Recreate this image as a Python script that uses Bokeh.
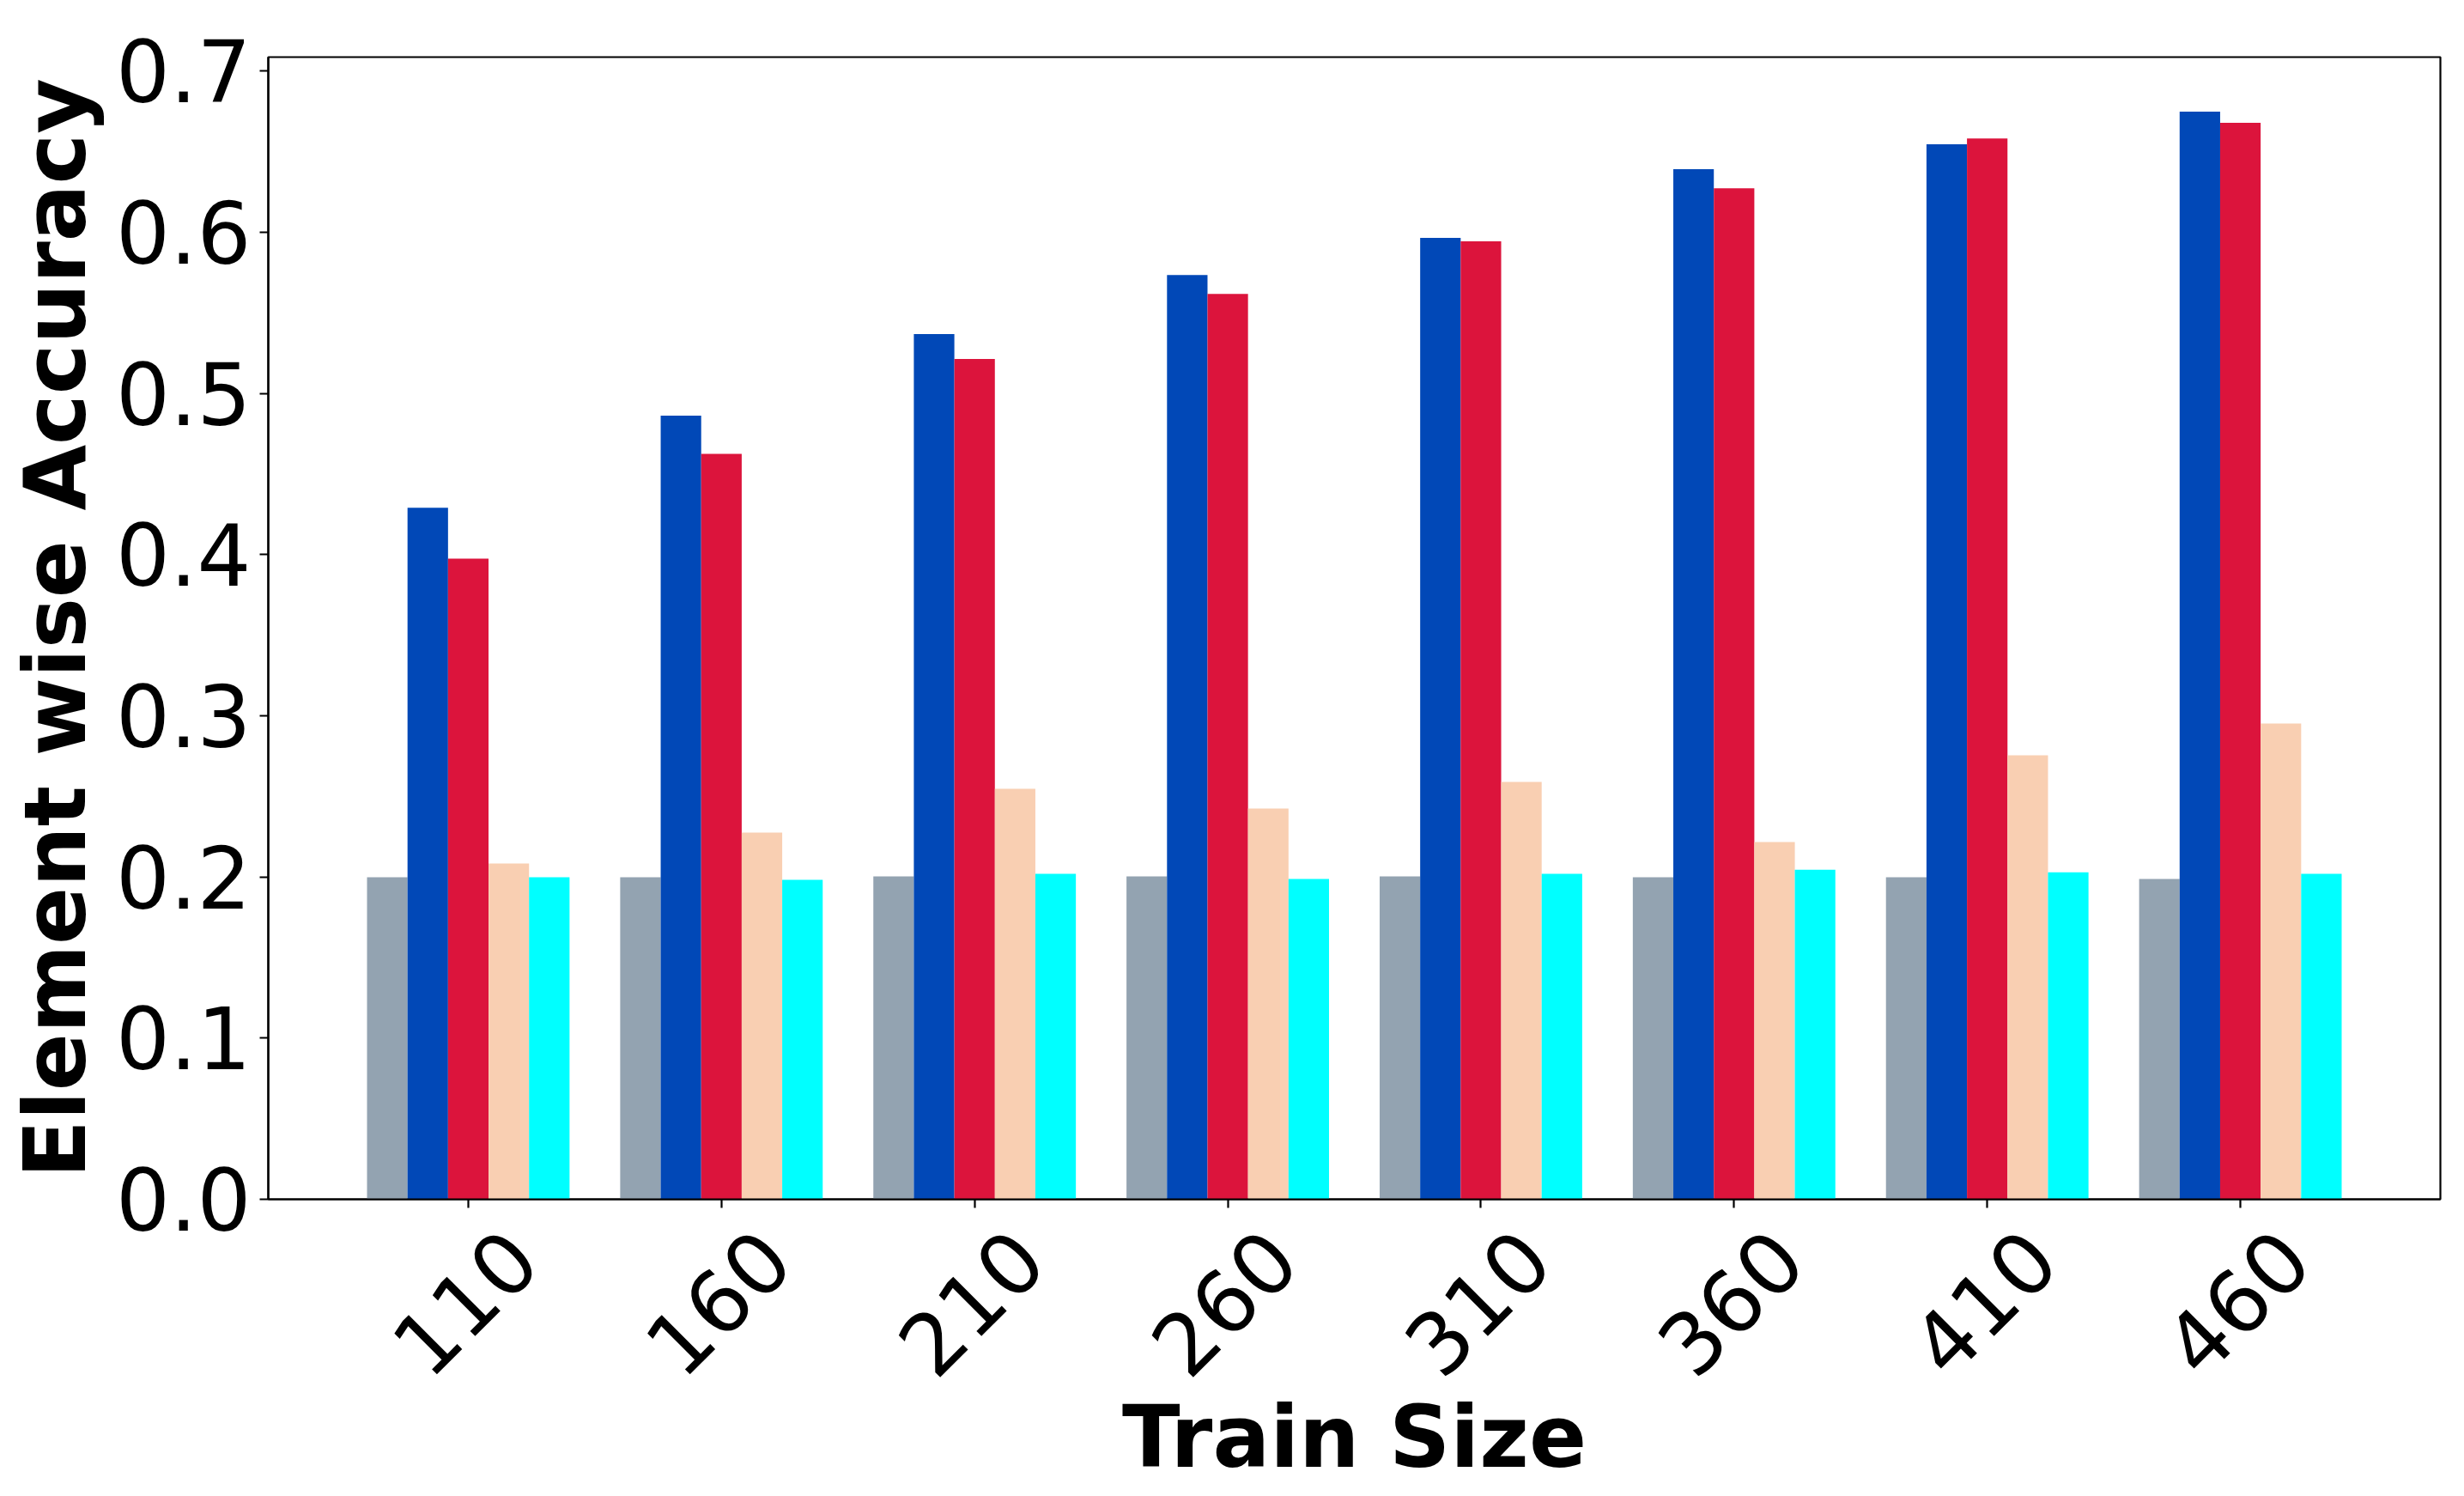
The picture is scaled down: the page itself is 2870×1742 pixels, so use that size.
import numpy as np
from math import pi
from bokeh.plotting import figure
from bokeh.models import Range1d, FixedTicker, LinearAxis
from bokeh.embed import file_html
from bokeh.resources import INLINE

# ---- data ----
train_sizes = ["110", "160", "210", "260", "310", "360", "410", "460"]
acc_gray = [0.1998, 0.1998, 0.2003, 0.2003, 0.2003, 0.1998, 0.1998, 0.1987]
acc_blue = [0.4290, 0.4861, 0.5368, 0.5734, 0.5965, 0.6391, 0.6545, 0.6748]
acc_red = [0.3975, 0.4625, 0.5213, 0.5617, 0.5943, 0.6272, 0.6581, 0.6679]
acc_peach = [0.2083, 0.2275, 0.2547, 0.2424, 0.2589, 0.2216, 0.2755, 0.2952]
acc_cyan = [0.1998, 0.1982, 0.2019, 0.1987, 0.2019, 0.2045, 0.2029, 0.2019]
y_ticks = [0.0, 0.1, 0.2, 0.3, 0.4, 0.5, 0.6, 0.7]
y_tick_labels = ["0.0", "0.1", "0.2", "0.3", "0.4", "0.5", "0.6", "0.7"]

series = [acc_gray, acc_blue, acc_red, acc_peach, acc_cyan]
colors = ["#93A3B1", "#0148B7", "#DC143C", "#F9CFB2", "#00FFFF"]

FONT = "DejaVu Sans"
FS = "99px"
BAR_W = 0.16
LW = 2.2
LABEL_SHIFT = 0.212  # puts the rotated labels' centres under the ticks

x_lo, x_hi = -0.79, 7.79

p = figure(width=2866, height=1740,
           x_range=Range1d(x_lo, x_hi), y_range=Range1d(0, 0.7086),
           output_backend="svg", toolbar_location=None,
           min_border_left=312, min_border_right=24,
           min_border_top=66, min_border_bottom=344)
p.title.visible = False
p.background_fill_color = "white"
p.border_fill_color = "white"
p.xgrid.visible = False
p.ygrid.visible = False
p.outline_line_color = "black"
p.outline_line_width = LW

idx = np.arange(len(train_sizes))
n = len(series)
for k, (vals, col) in enumerate(zip(series, colors)):
    off = (k - (n - 1) / 2) * BAR_W
    p.vbar(x=idx + off, top=vals, bottom=0, width=BAR_W,
           fill_color=col, line_color=None)

# x axis 1: tick marks only
xa = p.xaxis[0]
xa.ticker = FixedTicker(ticks=list(range(len(train_sizes))))
xa.major_label_overrides = {i: "" for i in range(len(train_sizes))}
xa.major_label_text_font_size = "0px"
xa.major_label_standoff = 0
xa.major_tick_out = 10
xa.major_tick_in = 0
xa.major_tick_line_width = LW
xa.major_tick_line_color = "black"
xa.minor_tick_line_color = None
xa.axis_line_width = LW
xa.axis_line_color = "black"

# x axis 2: rotated tick labels + axis title
p.extra_x_ranges = {"lab": Range1d(x_lo - LABEL_SHIFT, x_hi - LABEL_SHIFT)}
la = LinearAxis(x_range_name="lab",
                ticker=FixedTicker(ticks=list(range(len(train_sizes)))),
                major_label_overrides={i: s for i, s in enumerate(train_sizes)})
la.major_label_orientation = pi / 4
la.major_label_text_font = FONT
la.major_label_text_font_size = FS
la.major_label_text_color = "black"
la.major_label_standoff = 43
la.axis_line_color = None
la.major_tick_line_color = None
la.minor_tick_line_color = None
la.major_tick_out = 0
la.major_tick_in = 0
la.axis_label = "Train Size"
la.axis_label_text_font = FONT
la.axis_label_text_font_size = FS
la.axis_label_text_font_style = "bold"
la.axis_label_text_color = "black"
la.axis_label_standoff = -22
p.add_layout(la, "below")

# y axis
ya = p.yaxis[0]
ya.ticker = FixedTicker(ticks=y_ticks)
ya.major_label_overrides = {0: y_tick_labels[0]}
ya.major_label_text_font = FONT
ya.major_label_text_font_size = FS
ya.major_label_text_color = "black"
ya.major_label_standoff = 10
ya.major_tick_out = 10
ya.major_tick_in = 0
ya.major_tick_line_width = LW
ya.major_tick_line_color = "black"
ya.minor_tick_line_color = None
ya.axis_line_width = LW
ya.axis_line_color = "black"
ya.axis_label = "Element wise Accuracy"
ya.axis_label_text_font = FONT
ya.axis_label_text_font_size = FS
ya.axis_label_text_font_style = "bold"
ya.axis_label_text_color = "black"
ya.axis_label_standoff = 10

open("out.html", "w").write(file_html(p, INLINE))
